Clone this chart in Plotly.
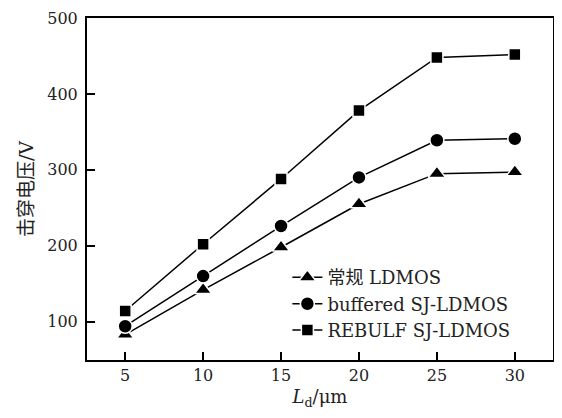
import plotly.graph_objects as go

x_vals = [5, 10, 15, 20, 25, 30]
conv_ldmos = [83, 142, 198, 255, 295, 297]
buffered_sj = [94, 160, 226, 290, 339, 341]
rebulf_sj = [114, 202, 288, 378, 448, 452]

names = ["常规 LDMOS", "buffered SJ-LDMOS", "REBULF SJ-LDMOS"]
series = [conv_ldmos, buffered_sj, rebulf_sj]
symbols = ["triangle-up", "circle", "square"]
sizes = [15, 14, 12]

FONT = "DejaVu Serif, Noto Sans CJK SC, serif"

fig = go.Figure()
for i, (nm, ys, sym, sz) in enumerate(zip(names, series, symbols, sizes)):
    fig.add_trace(go.Scatter(
        x=x_vals, y=ys, name=nm, mode="lines+markers",
        legendgroup=f"g{i}",
        line=dict(color="black", width=1.5),
        marker=dict(symbol=sym, size=sz, color="black",
                    line=dict(color="white", width=1.5)),
    ))

fig.update_layout(
    width=546, height=402,
    margin=dict(l=79, r=1, t=10, b=50, autoexpand=False),
    paper_bgcolor="white", plot_bgcolor="white",
    font=dict(family=FONT, size=16, color="#222"),
    showlegend=True,
    legend=dict(
        x=0.43, y=0.295, xanchor="left", yanchor="top",
        bgcolor="rgba(0,0,0,0)", borderwidth=0,
        font=dict(family=FONT, size=18, color="#222"),
        tracegroupgap=5, traceorder="normal",
    ),
    xaxis=dict(
        range=[2.55, 32.45], tickvals=x_vals, ticktext=[str(v) for v in x_vals],
        ticks="inside", ticklen=8, tickwidth=1.5, tickcolor="black",
        showline=True, linecolor="black", linewidth=2, mirror=True,
        showgrid=False, zeroline=False, automargin=False,
        ticklabeloverflow="allow",
        title=dict(text="<i>L</i><sub>d</sub>/μm", standoff=10,
                   font=dict(family=FONT, size=18)),
    ),
    yaxis=dict(
        range=[49.5, 500], tickvals=[100, 200, 300, 400, 500],
        ticks="inside", ticklen=8, tickwidth=1.5, tickcolor="black",
        showline=True, linecolor="black", linewidth=2, mirror=True,
        showgrid=False, zeroline=False, ticklabelstandoff=4, automargin=False,
        ticklabeloverflow="allow",
        title=dict(text="击穿电压/V", standoff=9,
                   font=dict(family=FONT, size=19)),
    ),
)

fig.write_html("out.html")
